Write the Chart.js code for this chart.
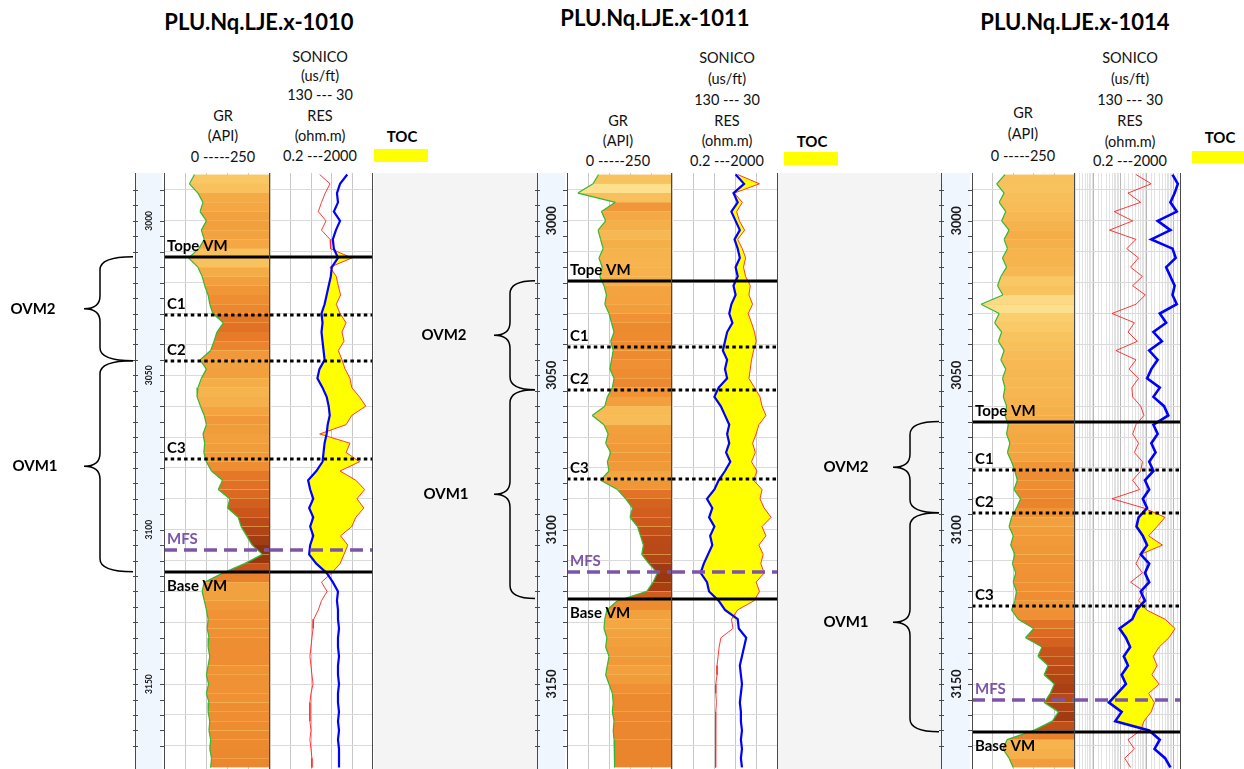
<!DOCTYPE html>
<html>
<head>
<meta charset="utf-8">
<title>Registros VM</title>
<script src="https://cdn.jsdelivr.net/npm/chart.js@4.4.1/dist/chart.umd.min.js"></script>
<style>
  html, body { margin: 0; padding: 0; background: #fff; }
  body { width: 1244px; height: 769px; position: relative; overflow: hidden; font-family: Lato, "Open Sans", sans-serif; color: #111; }
  .lbl { position: absolute; transform: translate(-50%, -50%); white-space: nowrap; font-size: 14.5px; line-height: 1; }
  .ttl { font-weight: bold; font-size: 22px; color: #000; }
  .toc { font-weight: bold; font-size: 15px; color: #000; }
  .shade { position: absolute; background: #f4f4f4; }
  .tocbox { position: absolute; background: #ffff00; }
  canvas { position: absolute; }
</style>
</head>
<body>
<script>
// depth samples (ft) shared by the three wells
const DEPTHS = [
  2985, 2988, 2991, 2994, 2997, 3000, 3003, 3006, 3009, 3012,
  3015, 3018, 3021, 3024, 3027, 3030, 3033, 3036, 3039, 3042,
  3045, 3048, 3051, 3054, 3057, 3060, 3063, 3066, 3069, 3072,
  3075, 3078, 3081, 3084, 3087, 3090, 3093, 3096, 3099, 3102,
  3105, 3108, 3111, 3114, 3117, 3120, 3123, 3126, 3129, 3132,
  3135, 3138, 3141, 3144, 3147, 3150, 3153, 3156, 3159, 3162,
  3165, 3168, 3171, 3174, 3177
];

// PLU.Nq.LJE.x-1010
const GR_1010 = [
  72, 60, 80, 92, 85, 100, 88, 95, 82, 58,
  80, 90, 96, 104, 108, 115, 140, 125, 118, 110,
  85, 100, 88, 80, 78, 86, 95, 100, 92, 96,
  94, 100, 112, 138, 128, 155, 150, 175, 182, 195,
  208, 232, 190, 140, 95, 90, 95, 100, 104, 102,
  106, 104, 108, 104, 100, 105, 100, 106, 104, 108,
  106, 110, 108, 112, 110
];
const SON_1010 = [
  55, 62, 65, 64, 68, 62, 66, 69, 68, 64,
  70, 71, 73, 75, 77, 80, 79, 80, 79, 78,
  77, 82, 84, 79, 75, 73, 72, 74, 75, 77,
  78, 79, 85, 93, 91, 88, 92, 88, 91, 88,
  91, 92, 85, 75, 69, 64, 65, 64, 64, 63,
  64, 64, 63, 64, 64, 63, 64, 64, 63, 64,
  63, 64, 63, 63, 63
];
const RES_1010 = [
  17, 43, 28, 20, 15, 30, 20, 43, 45, 300,
  43, 75, 90, 110, 75, 105, 180, 125, 150, 90,
  125, 165, 256, 300, 600, 1050, 300, 180, 17, 256,
  180, 600, 105, 430, 950, 478, 880, 430, 300, 110,
  210, 150, 105, 50, 20, 33, 20, 15, 10, 9.4,
  8.5, 7.8, 7.1, 7.8, 8.5, 9.4, 7.8, 7.1, 7.1, 7.1,
  7.8, 7.1, 7.8, 8.5, 8.5
];

// PLU.Nq.LJE.x-1011
const GR_1011 = [
  75, 62, 26, 115, 82, 92, 74, 80, 86, 76,
  84, 78, 88, 94, 90, 100, 106, 112, 104, 110,
  106, 102, 112, 108, 96, 90, 60, 88, 98, 92,
  104, 96, 100, 80, 120, 140, 156, 150, 168, 175,
  182, 178, 195, 215, 205, 190, 120, 95, 90, 88,
  95, 92, 100, 96, 92, 100, 108, 110, 108, 112,
  110, 112, 114, 112, 114
];
const SON_1011 = [
  70, 62, 72, 68, 74, 70, 66, 71, 68, 66,
  70, 68, 72, 70, 74, 76, 73, 78, 80, 82,
  78, 80, 78, 86, 90, 84, 80, 76, 78, 76,
  79, 75, 80, 86, 90, 97, 92, 95, 90, 94,
  92, 96, 100, 103, 97, 95, 86, 80, 68, 67,
  60, 62, 64, 66, 65, 64, 65, 66, 65, 65,
  64, 65, 64, 65, 64
];
const RES_1011 = [
  60, 400, 45, 90, 55, 70, 110, 60, 90, 120,
  100, 120, 180, 160, 220, 150, 200, 260, 300, 240,
  200, 180, 160, 260, 420, 500, 700, 380, 300, 220,
  280, 200, 320, 240, 500, 420, 600, 1100, 500, 700,
  380, 550, 450, 600, 300, 400, 250, 60, 35, 40,
  14, 12, 11, 10, 10, 9, 9, 9.5, 9, 8.5,
  9, 8.8, 9, 9, 9
];

// PLU.Nq.LJE.x-1014
const GR_1014 = [
  80, 60, 78, 66, 82, 72, 90, 78, 86, 74,
  84, 70, 62, 75, 22, 66, 55, 72, 64, 78,
  70, 82, 74, 80, 76, 84, 80, 88, 84, 92,
  86, 96, 104, 110, 102, 118, 108, 96, 90, 100,
  94, 104, 98, 106, 100, 108, 104, 96, 112, 150,
  130, 170, 160, 185, 175, 200, 190, 175, 210, 195,
  150, 85, 75, 90, 100
];
const SON_1014 = [
  38, 33, 36, 40, 34, 52, 40, 58, 38, 35,
  44, 40, 36, 38, 34, 50, 44, 56, 48, 60,
  52, 58, 62, 50, 56, 46, 42, 56, 52, 58,
  54, 60, 56, 64, 60, 66, 62, 70, 72, 66,
  62, 68, 60, 64, 60, 68, 64, 72, 76, 88,
  82, 78, 84, 80, 86, 82, 90, 98, 86, 92,
  60, 50, 55, 45, 40
];
const RES_1014 = [
  40, 150, 20, 60, 6, 30, 4, 40, 18, 50,
  25, 70, 30, 90, 40, 5, 35, 20, 45, 7,
  40, 22, 50, 28, 30, 60, 80, 40, 30, 50,
  35, 70, 60, 30, 55, 5, 80, 500, 250, 120,
  400, 60, 40, 70, 25, 80, 50, 100, 500, 1200,
  700, 300, 180, 250, 160, 300, 120, 200, 150, 80,
  60, 20, 35, 15, 25
];

// well tops (ft)
const MARKER_NAMES = ['Tope VM', 'C1', 'C2', 'C3', 'MFS', 'Base VM'];
const MARKERS_1010 = [3011.6, 3030.4, 3045.3, 3077.0, 3106.5, 3113.6];
const MARKERS_1011 = [3019.4, 3041.0, 3054.7, 3083.5, 3113.6, 3122.3];
const MARKERS_1014 = [3065.0, 3080.6, 3094.5, 3124.6, 3155.0, 3165.4];

const UNIT_NAMES = ['OVM2', 'OVM1'];
const UNIT_TOPS = ['Tope VM', 'C2'];
const UNIT_BASES = ['C2', 'Base VM'];

const WELL_NAMES = ['PLU.Nq.LJE.x-1010', 'PLU.Nq.LJE.x-1011', 'PLU.Nq.LJE.x-1014'];
const SON_HDR = ['SONICO', '(us/ft)', '130 --- 30'];
const GR_HDR = ['GR', '(API)', '0 -----250'];
const RES_HDR = ['RES', '(ohm.m)', '0.2 ---2000'];

const DEPTH_LIMITS = [2984.5, 3177.5];
const GR_LIMITS = [0, 250];
const SON_LIMITS = [30, 130];
const RES_LIMITS = [0.2, 2000];

const WELLS = [
  { gr: GR_1010, son: SON_1010, res: RES_1010, markers: MARKERS_1010 },
  { gr: GR_1011, son: SON_1011, res: RES_1011, markers: MARKERS_1011 },
  { gr: GR_1014, son: SON_1014, res: RES_1014, markers: MARKERS_1014 }
];

// page layout (px)
const TOP = 173, H = 596;
const LAYOUT = [
  { depth: [135, 164], gr: [164, 270], res: [270, 373], left: 0, brace: [133, 100, 84], unitX: [33, 35],
    depthFont: 8.5, logGrid: false, sonWidth: 2.2, shade: [374, 537],
    title: [259, 22], son: [320, [57, 76, 95]], grH: [223, [116, 136, 157]], resH: [320, [116, 136, 156]],
    toc: [402, 136], box: [374, 149, 54, 13] },
  { depth: [537, 567], gr: [567, 672], res: [672, 778], left: 400, brace: [535, 510, 494], unitX: [444, 446],
    depthFont: 12.5, logGrid: false, sonWidth: 2.2, shade: [778, 941],
    title: [655, 18], son: [727, [58, 79, 100]], grH: [618, [121, 141, 161]], resH: [727, [121, 141, 161]],
    toc: [812, 141], box: [784, 152, 54, 13] },
  { depth: [941, 972], gr: [972, 1075], res: [1075, 1181], left: 800, brace: [939, 910, 893], unitX: [846, 846],
    depthFont: 12.5, logGrid: true, sonWidth: 2.6, shade: null,
    title: [1075, 22], son: [1130, [58, 79, 100]], grH: [1023, [113, 134, 156]], resH: [1130, [121, 142, 161]],
    toc: [1220, 137], box: [1192, 151, 52, 12] }
];

const MARK_STYLE = {
  'Tope VM': { color: '#000', dash: [], width: 3, below: false },
  'C1': { color: '#000', dash: [3.5, 3.2], width: 3, below: false },
  'C2': { color: '#000', dash: [3.5, 3.2], width: 3, below: false },
  'C3': { color: '#000', dash: [3.5, 3.2], width: 3, below: false },
  'MFS': { color: '#7d55a8', dash: [13, 7], width: 3.5, below: false },
  'Base VM': { color: '#000', dash: [], width: 3, below: true }
};
const TOC_COLOR = '#ffff00';
const GR_UNDERLAY = '#f7c466';
const GR_STOPS = [
  [0, [255, 246, 200]], [40, [253, 228, 150]], [65, [249, 200, 100]], [85, [245, 172, 70]],
  [105, [238, 142, 50]], [130, [226, 115, 38]], [160, [204, 88, 28]], [195, [170, 64, 20]], [235, [120, 42, 10]]
];

function grColor(v) {
  if (v <= GR_STOPS[0][0]) return 'rgb(' + GR_STOPS[0][1].join(',') + ')';
  for (let i = 1; i < GR_STOPS.length; i++) {
    const [v1, c1] = GR_STOPS[i];
    if (v <= v1) {
      const [v0, c0] = GR_STOPS[i - 1];
      const t = (v - v0) / (v1 - v0);
      return 'rgb(' + c0.map((c, k) => Math.round(c + (c1[k] - c) * t)).join(',') + ')';
    }
  }
  return 'rgb(' + GR_STOPS[GR_STOPS.length - 1][1].join(',') + ')';
}

function markerDepth(markers, name) {
  return markers[MARKER_NAMES.indexOf(name)];
}

// marker lines, labels and side borders of the GR / RES tracks
const logTrack = {
  id: 'logTrack',
  afterDatasetsDraw(chart, args, o) {
    const { ctx, chartArea: a, scales: { y } } = chart;
    ctx.save();
    o.markers.forEach((d, i) => {
      const name = MARKER_NAMES[i];
      const st = MARK_STYLE[name];
      const py = Math.round(y.getPixelForValue(d));
      ctx.beginPath();
      ctx.setLineDash(st.dash);
      ctx.lineWidth = st.width;
      ctx.strokeStyle = st.color;
      ctx.moveTo(a.left, py);
      ctx.lineTo(a.right, py);
      ctx.stroke();
      if (o.labels) {
        ctx.setLineDash([]);
        ctx.font = 'bold 15px Lato';
        ctx.fillStyle = st.color;
        ctx.textAlign = 'left';
        ctx.textBaseline = 'alphabetic';
        ctx.fillText(name, a.left + 3, st.below ? py + 19 : py - 6);
      }
    });
    ctx.setLineDash([]);
    ctx.lineWidth = 1;
    ctx.strokeStyle = '#4a4a4a';
    ctx.beginPath();
    if (o.leftBorder) { ctx.moveTo(a.left + 0.5, a.top); ctx.lineTo(a.left + 0.5, a.bottom); }
    ctx.moveTo(a.right - 0.5, a.top);
    ctx.lineTo(a.right - 0.5, a.bottom);
    ctx.stroke();
    ctx.restore();
  }
};

// depth track: background, ticks, rotated labels, unit braces
const depthTrack = {
  id: 'depthTrack',
  afterDraw(chart, args, o) {
    const { ctx, chartArea: a, scales: { y } } = chart;
    ctx.save();
    ctx.fillStyle = '#f0f6fd';
    ctx.fillRect(a.left, a.top, a.width - 2, a.height);
    ctx.strokeStyle = '#4a4a4a';
    ctx.lineWidth = 1;
    ctx.beginPath();
    ctx.moveTo(a.left + 0.5, a.top);
    ctx.lineTo(a.left + 0.5, a.bottom);
    y.ticks.forEach(t => {
      if (Math.abs(t.value % 5) > 0.01) return;
      const py = Math.round(y.getPixelForValue(t.value)) + 0.5;
      ctx.moveTo(a.left - 2, py); ctx.lineTo(a.left + 3, py);
      ctx.moveTo(a.right - 4, py); ctx.lineTo(a.right, py);
    });
    ctx.stroke();
    ctx.fillStyle = '#1a1a1a';
    ctx.font = 'bold ' + o.font + 'px Lato';
    ctx.textAlign = 'center';
    ctx.textBaseline = 'middle';
    y.ticks.forEach(t => {
      if (Math.abs(t.value % 50) > 0.01) return;
      ctx.save();
      ctx.translate((a.left + a.right) / 2, y.getPixelForValue(t.value));
      ctx.rotate(-Math.PI / 2);
      ctx.fillText(String(Math.round(t.value)), 0, 0);
      ctx.restore();
    });
    const [xR, xM, xT] = o.brace;
    ctx.strokeStyle = '#000';
    ctx.lineWidth = 1.5;
    ctx.font = 'bold 15px Lato';
    ctx.fillStyle = '#000';
    UNIT_NAMES.forEach((u, i) => {
      const y0 = y.getPixelForValue(markerDepth(o.markers, UNIT_TOPS[i]));
      const y1 = y.getPixelForValue(markerDepth(o.markers, UNIT_BASES[i]));
      const yc = (y0 + y1) / 2, r = 13;
      ctx.beginPath();
      ctx.moveTo(xR, y0);
      ctx.quadraticCurveTo(xM, y0, xM, y0 + r);
      ctx.lineTo(xM, yc - r);
      ctx.quadraticCurveTo(xM, yc, xT, yc);
      ctx.quadraticCurveTo(xM, yc, xM, yc + r);
      ctx.lineTo(xM, y1 - r);
      ctx.quadraticCurveTo(xM, y1, xR, y1);
      ctx.stroke();
      ctx.fillText(u, o.unitX[i], yc);
    });
    ctx.restore();
  }
};

function makeCanvas(left, width) {
  const c = document.createElement('canvas');
  c.width = width;
  c.height = H;
  c.style.left = left + 'px';
  c.style.top = TOP + 'px';
  c.style.width = width + 'px';
  c.style.height = H + 'px';
  document.body.appendChild(c);
  return c;
}

function addText(txt, x, y, cls) {
  const el = document.createElement('div');
  el.className = 'lbl' + (cls ? ' ' + cls : '');
  el.textContent = txt;
  el.style.left = x + 'px';
  el.style.top = y + 'px';
  document.body.appendChild(el);
}

function addBox(cls, x, y, w, h) {
  const el = document.createElement('div');
  el.className = cls;
  Object.assign(el.style, { left: x + 'px', top: y + 'px', width: w + 'px', height: h + 'px' });
  document.body.appendChild(el);
}

function depthAxis(gridColor) {
  return {
    type: 'linear', min: DEPTH_LIMITS[0], max: DEPTH_LIMITS[1], reverse: true, position: 'left',
    ticks: { display: false, stepSize: gridColor ? 10 : 5 },
    border: { display: false },
    grid: {
      display: !!gridColor, drawTicks: false,
      color: c => Math.abs(c.tick.value % 10) < 0.01 ? gridColor : 'rgba(0,0,0,0)'
    }
  };
}

function hiddenAxis(type, min, max, step, grid, reverse) {
  return {
    type, min, max, reverse: !!reverse, position: 'bottom',
    ticks: { display: false, stepSize: step },
    border: { display: false },
    grid: Object.assign({ drawTicks: false }, grid)
  };
}

function baseOptions(scales, plugins) {
  return {
    responsive: false, animation: false, events: [], indexAxis: 'y',
    layout: { padding: 0 },
    scales,
    plugins: Object.assign({ legend: { display: false }, tooltip: { enabled: false } }, plugins)
  };
}

LAYOUT.forEach((L, w) => {
  const W = WELLS[w];
  const grPoints = DEPTHS.map((d, i) => ({ x: W.gr[i], y: d }));

  if (L.shade) addBox('shade', L.shade[0], TOP, L.shade[1] - L.shade[0], H);
  addText(WELL_NAMES[w], L.title[0], L.title[1], 'ttl');
  SON_HDR.forEach((t, i) => addText(t, L.son[0], L.son[1][i]));
  GR_HDR.forEach((t, i) => addText(t, L.grH[0], L.grH[1][i]));
  RES_HDR.forEach((t, i) => addText(t, L.resH[0], L.resH[1][i]));
  addText('TOC', L.toc[0], L.toc[1], 'toc');
  addBox('tocbox', L.box[0], L.box[1], L.box[2], L.box[3]);

  // depth track + braces
  new Chart(makeCanvas(L.left, L.depth[1] - L.left), {
    type: 'line',
    data: { datasets: [] },
    options: Object.assign(baseOptions({
      x: hiddenAxis('linear', 0, 1, 1, { display: false }),
      y: depthAxis(null)
    }, {
      depthTrack: {
        font: L.depthFont, markers: W.markers, unitX: L.unitX.map(v => v - L.left),
        brace: L.brace.map(v => v - L.left)
      }
    }), { layout: { padding: { left: L.depth[0] - L.left } } }),
    plugins: [depthTrack]
  });

  // GR track: shaded curve on top of a plain underlay
  new Chart(makeCanvas(L.gr[0], L.gr[1] - L.gr[0]), {
    type: 'line',
    data: {
      datasets: [{
        data: grPoints,
        borderColor: '#34b834', borderWidth: 1.2, pointRadius: 0, tension: 0,
        fill: { value: GR_LIMITS[1] },
        segment: { backgroundColor: c => grColor((W.gr[c.p0DataIndex] + W.gr[c.p1DataIndex]) / 2) }
      }, {
        data: grPoints,
        borderWidth: 0, pointRadius: 0, tension: 0,
        backgroundColor: GR_UNDERLAY,
        fill: { value: GR_LIMITS[1] }
      }]
    },
    options: baseOptions({
      x: hiddenAxis('linear', GR_LIMITS[0], GR_LIMITS[1], 50, { color: '#c9c9c9' }),
      y: depthAxis('#dadada')
    }, { logTrack: { markers: W.markers, labels: true, leftBorder: true } }),
    plugins: [logTrack]
  });

  // sonic + resistivity track
  new Chart(makeCanvas(L.res[0], L.res[1] - L.res[0]), {
    type: 'line',
    data: {
      datasets: [{
        label: 'SONICO',
        xAxisID: 'xs',
        data: DEPTHS.map((d, i) => ({ x: W.son[i], y: d })),
        borderColor: '#0000ff', borderWidth: L.sonWidth, pointRadius: 0, tension: 0, fill: false
      }, {
        label: 'RES',
        xAxisID: 'xr',
        data: DEPTHS.map((d, i) => ({ x: W.res[i], y: d })),
        borderColor: 'rgba(255,35,35,0.9)', borderWidth: 1, pointRadius: 0, tension: 0,
        fill: { target: 0 },
        segment: {
          backgroundColor: c => {
            const blue = c.chart.getDatasetMeta(0).data;
            const r = (c.p0.x + c.p1.x) / 2;
            const b = (blue[c.p0DataIndex].x + blue[c.p1DataIndex].x) / 2;
            return r > b ? TOC_COLOR : 'rgba(0,0,0,0)';
          }
        }
      }]
    },
    options: baseOptions({
      xs: hiddenAxis('linear', SON_LIMITS[0], SON_LIMITS[1], 20, { display: !L.logGrid, color: '#c9c9c9' }, true),
      xr: hiddenAxis('logarithmic', RES_LIMITS[0], RES_LIMITS[1], undefined, {
        display: L.logGrid,
        color: c => {
          const lg = Math.log10(c.tick.value);
          return Math.abs(lg - Math.round(lg)) < 0.001 ? '#b8b8b8' : '#e2e2e2';
        }
      }),
      y: depthAxis('#dadada')
    }, { logTrack: { markers: W.markers, labels: false, leftBorder: false } }),
    plugins: [logTrack]
  });
});
</script>
</body>
</html>
